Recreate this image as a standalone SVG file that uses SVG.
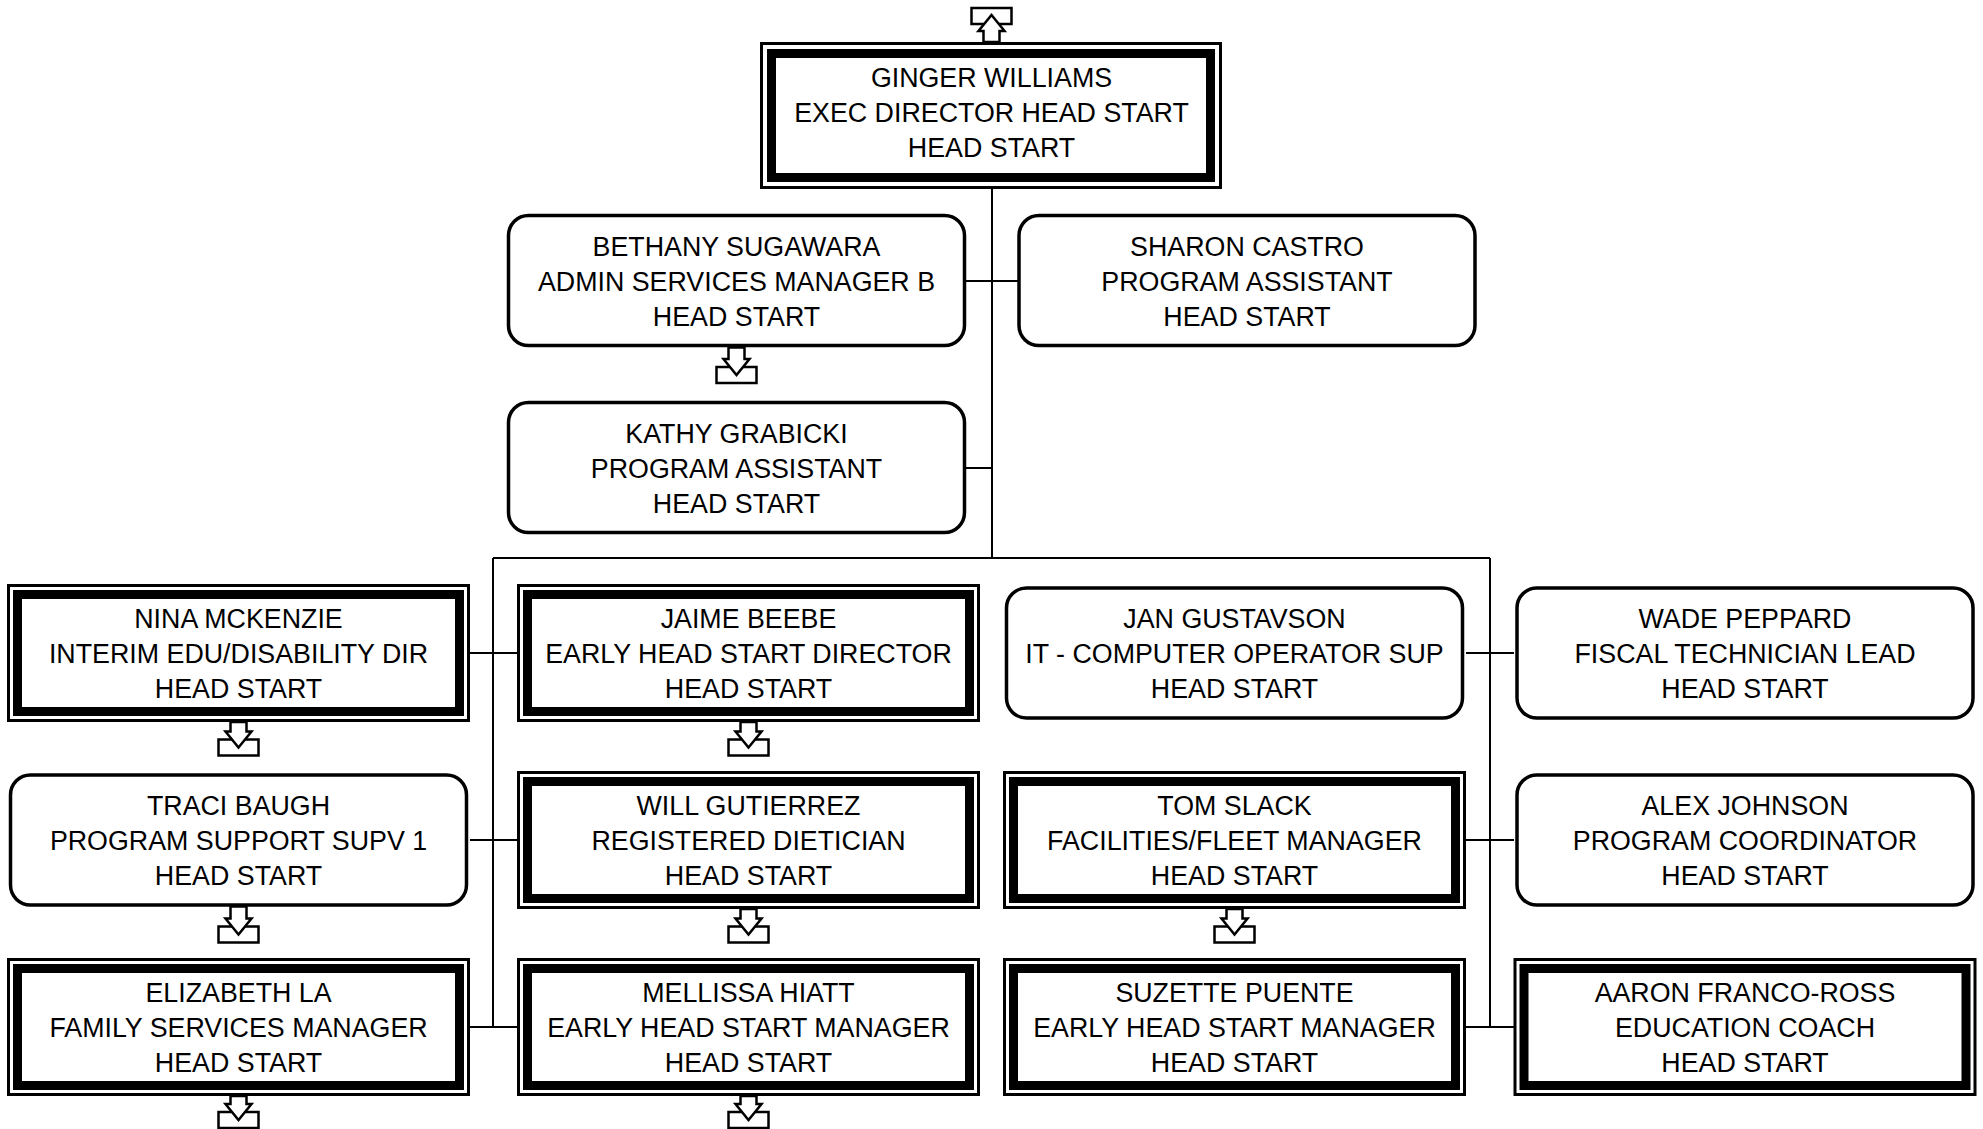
<svg xmlns="http://www.w3.org/2000/svg" width="1983" height="1129" viewBox="0 0 1983 1129">
<style>
.rr{fill:#fff;stroke:#000;stroke-width:3.5}
.dbo{fill:#fff;stroke:#000;stroke-width:3}
.dbi{fill:none;stroke:#000;stroke-width:9}
.t{font-family:"Liberation Sans",Arial,sans-serif;font-size:26.8px;text-anchor:middle;fill:#000}
.cn{stroke:#000;stroke-width:2;fill:none}
.ic{fill:#fff;stroke:#000;stroke-width:2.5}
</style>
<rect width="1983" height="1129" fill="#fff"/>
<g id="connectors">
<path class="cn" d="M992,189V558M966,281H1018M966,468H992M493,558H1490M493,558V1027M1490,558V1027"/>
<path class="cn" d="M470,653H517M470,840H517M470,1027H517M1466,653H1514M1466,840H1514M1466,1027H1514"/>
</g>
<g id="ginger">
<rect class="ic" x="971.5" y="8" width="40" height="16"/>
<path class="ic" d="M983.5,42V31H978.5L991.5,15L1004.5,31H999.5V42Z"/>
<rect class="dbo" x="761.5" y="43.5" width="459" height="144"/>
<rect class="dbi" x="771.5" y="53.5" width="439" height="124"/>
<text class="t" x="991.5" y="86.5">GINGER WILLIAMS</text>
<text class="t" x="991.5" y="121.5">EXEC DIRECTOR HEAD START</text>
<text class="t" x="991.5" y="156.5">HEAD START</text>
</g>
<g id="bethany">
<rect class="rr" x="508.5" y="215.5" width="456" height="130" rx="20"/>
<text class="t" x="736.5" y="255.5">BETHANY SUGAWARA</text>
<text class="t" x="736.5" y="290.5">ADMIN SERVICES MANAGER B</text>
<text class="t" x="736.5" y="325.5">HEAD START</text>
<rect class="ic" x="716.5" y="367" width="40" height="16"/>
<path class="ic" d="M728.5,347.5V359H723.5L736.5,375L749.5,359H744.5V347.5Z"/>
</g>
<g id="sharon">
<rect class="rr" x="1019" y="215.5" width="456" height="130" rx="20"/>
<text class="t" x="1247" y="255.5">SHARON CASTRO</text>
<text class="t" x="1247" y="290.5">PROGRAM ASSISTANT</text>
<text class="t" x="1247" y="325.5">HEAD START</text>
</g>
<g id="kathy">
<rect class="rr" x="508.5" y="402.5" width="456" height="130" rx="20"/>
<text class="t" x="736.5" y="442.5">KATHY GRABICKI</text>
<text class="t" x="736.5" y="477.5">PROGRAM ASSISTANT</text>
<text class="t" x="736.5" y="512.5">HEAD START</text>
</g>
<g id="nina">
<rect class="dbo" x="8.5" y="585.5" width="460" height="135"/>
<rect class="dbi" x="17.5" y="594.5" width="442" height="117"/>
<text class="t" x="238.5" y="628">NINA MCKENZIE</text>
<text class="t" x="238.5" y="663">INTERIM EDU/DISABILITY DIR</text>
<text class="t" x="238.5" y="698">HEAD START</text>
<rect class="ic" x="218.5" y="739.5" width="40" height="16"/>
<path class="ic" d="M230.5,722V731.5H225.5L238.5,747.5L251.5,731.5H246.5V722Z"/>
</g>
<g id="jaime">
<rect class="dbo" x="518.5" y="585.5" width="460" height="135"/>
<rect class="dbi" x="527.5" y="594.5" width="442" height="117"/>
<text class="t" x="748.5" y="628">JAIME BEEBE</text>
<text class="t" x="748.5" y="663">EARLY HEAD START DIRECTOR</text>
<text class="t" x="748.5" y="698">HEAD START</text>
<rect class="ic" x="728.5" y="739.5" width="40" height="16"/>
<path class="ic" d="M740.5,722V731.5H735.5L748.5,747.5L761.5,731.5H756.5V722Z"/>
</g>
<g id="jan">
<rect class="rr" x="1006.5" y="588" width="456" height="130" rx="20"/>
<text class="t" x="1234.5" y="628">JAN GUSTAVSON</text>
<text class="t" x="1234.5" y="663">IT - COMPUTER OPERATOR SUP</text>
<text class="t" x="1234.5" y="698">HEAD START</text>
</g>
<g id="wade">
<rect class="rr" x="1517" y="588" width="456" height="130" rx="20"/>
<text class="t" x="1745" y="628">WADE PEPPARD</text>
<text class="t" x="1745" y="663">FISCAL TECHNICIAN LEAD</text>
<text class="t" x="1745" y="698">HEAD START</text>
</g>
<g id="traci">
<rect class="rr" x="10.5" y="775" width="456" height="130" rx="20"/>
<text class="t" x="238.5" y="815">TRACI BAUGH</text>
<text class="t" x="238.5" y="850">PROGRAM SUPPORT SUPV 1</text>
<text class="t" x="238.5" y="885">HEAD START</text>
<rect class="ic" x="218.5" y="926.5" width="40" height="16"/>
<path class="ic" d="M230.5,906.5V918.5H225.5L238.5,934.5L251.5,918.5H246.5V906.5Z"/>
</g>
<g id="will">
<rect class="dbo" x="518.5" y="772.5" width="460" height="135"/>
<rect class="dbi" x="527.5" y="781.5" width="442" height="117"/>
<text class="t" x="748.5" y="815">WILL GUTIERREZ</text>
<text class="t" x="748.5" y="850">REGISTERED DIETICIAN</text>
<text class="t" x="748.5" y="885">HEAD START</text>
<rect class="ic" x="728.5" y="926.5" width="40" height="16"/>
<path class="ic" d="M740.5,909V918.5H735.5L748.5,934.5L761.5,918.5H756.5V909Z"/>
</g>
<g id="tom">
<rect class="dbo" x="1004.5" y="772.5" width="460" height="135"/>
<rect class="dbi" x="1013.5" y="781.5" width="442" height="117"/>
<text class="t" x="1234.5" y="815">TOM SLACK</text>
<text class="t" x="1234.5" y="850">FACILITIES/FLEET MANAGER</text>
<text class="t" x="1234.5" y="885">HEAD START</text>
<rect class="ic" x="1214.5" y="926.5" width="40" height="16"/>
<path class="ic" d="M1226.5,909V918.5H1221.5L1234.5,934.5L1247.5,918.5H1242.5V909Z"/>
</g>
<g id="alex">
<rect class="rr" x="1517" y="775" width="456" height="130" rx="20"/>
<text class="t" x="1745" y="815">ALEX JOHNSON</text>
<text class="t" x="1745" y="850">PROGRAM COORDINATOR</text>
<text class="t" x="1745" y="885">HEAD START</text>
</g>
<g id="elizabeth">
<rect class="dbo" x="8.5" y="959.5" width="460" height="135"/>
<rect class="dbi" x="17.5" y="968.5" width="442" height="117"/>
<text class="t" x="238.5" y="1002">ELIZABETH LA</text>
<text class="t" x="238.5" y="1037">FAMILY SERVICES MANAGER</text>
<text class="t" x="238.5" y="1072">HEAD START</text>
<rect class="ic" x="218.5" y="1112" width="40" height="16"/>
<path class="ic" d="M230.5,1096V1104H225.5L238.5,1120L251.5,1104H246.5V1096Z"/>
</g>
<g id="mellissa">
<rect class="dbo" x="518.5" y="959.5" width="460" height="135"/>
<rect class="dbi" x="527.5" y="968.5" width="442" height="117"/>
<text class="t" x="748.5" y="1002">MELLISSA HIATT</text>
<text class="t" x="748.5" y="1037">EARLY HEAD START MANAGER</text>
<text class="t" x="748.5" y="1072">HEAD START</text>
<rect class="ic" x="728.5" y="1112" width="40" height="16"/>
<path class="ic" d="M740.5,1096V1104H735.5L748.5,1120L761.5,1104H756.5V1096Z"/>
</g>
<g id="suzette">
<rect class="dbo" x="1004.5" y="959.5" width="460" height="135"/>
<rect class="dbi" x="1013.5" y="968.5" width="442" height="117"/>
<text class="t" x="1234.5" y="1002">SUZETTE PUENTE</text>
<text class="t" x="1234.5" y="1037">EARLY HEAD START MANAGER</text>
<text class="t" x="1234.5" y="1072">HEAD START</text>
</g>
<g id="aaron">
<rect class="dbo" x="1515" y="959.5" width="460" height="135"/>
<rect class="dbi" x="1524" y="968.5" width="442" height="117"/>
<text class="t" x="1745" y="1002">AARON FRANCO-ROSS</text>
<text class="t" x="1745" y="1037">EDUCATION COACH</text>
<text class="t" x="1745" y="1072">HEAD START</text>
</g>
</svg>
